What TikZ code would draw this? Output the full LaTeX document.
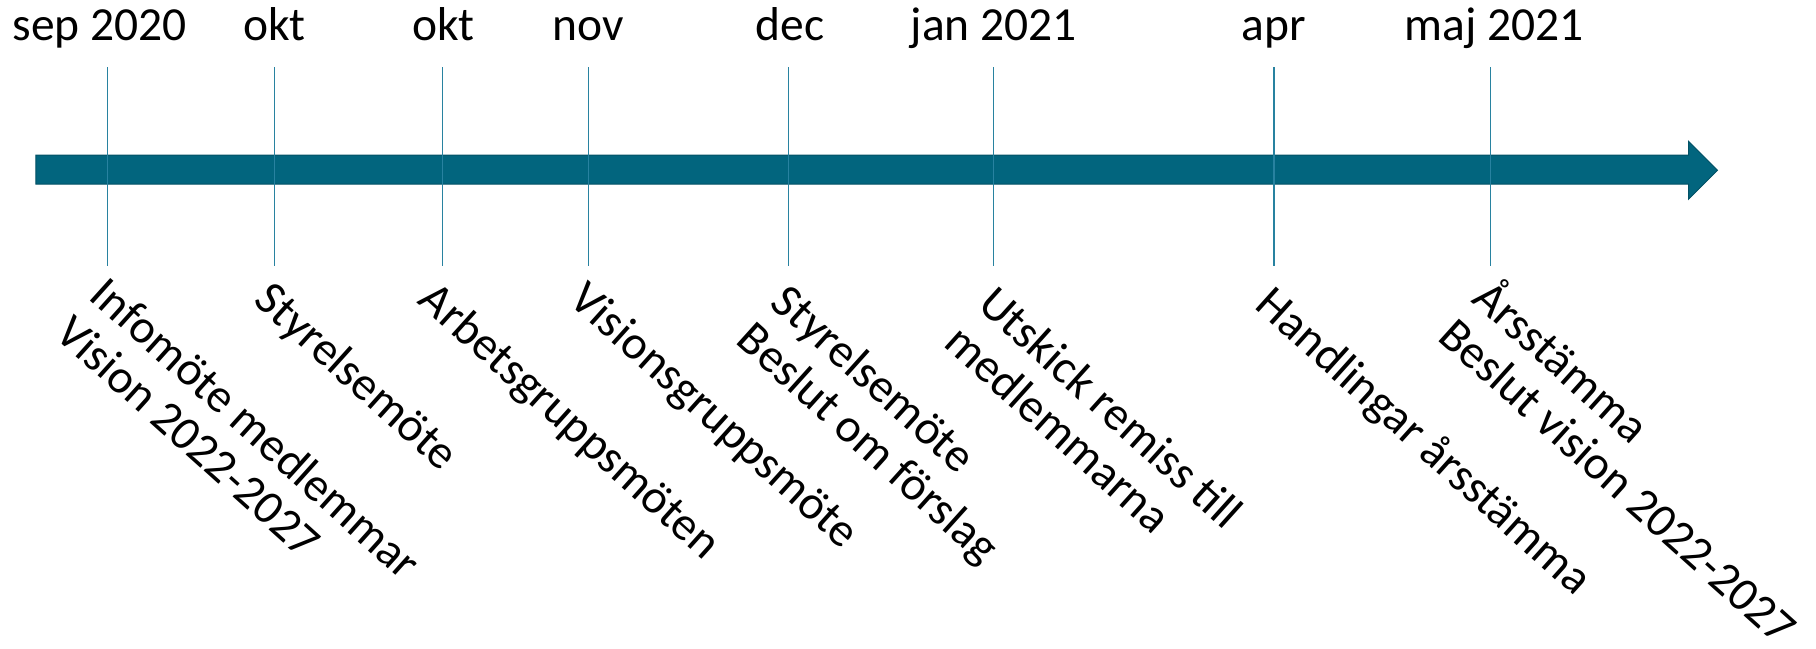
\documentclass[tikz,border=0pt]{standalone}
\usepackage{fontspec}
\setmainfont{Carlito}
\definecolor{arrowteal}{RGB}{2,101,126}
\definecolor{tickteal}{RGB}{40,130,160}
\begin{document}
\begin{tikzpicture}[x=1pt,y=-1pt,
  datelbl/.style={inner sep=0pt, anchor=base, font=\fontsize{41}{44}\selectfont},
  eventlbl/.style={inner sep=0pt, anchor=north west, rotate=-42, align=left, font=\fontsize{41}{44}\selectfont},
  tickline/.style={draw=tickteal, line width=1pt}]
\useasboundingbox (0,0) rectangle (1568,560);
% ticks
\foreach \n/\x in {a/93,b/237,c/382,d/508,e/681,f/858,g/1100,h/1287}{
  \coordinate (t\n) at (\x,58);
  \coordinate (b\n) at (\x,230);
}
% arrow
\fill[arrowteal, draw=arrowteal!80!black, line width=0.8pt]
  (31,134) -- (1458,134) -- (1458,122) -- (1483,147) -- (1458,172) -- (1458,159) -- (31,159) -- cycle;
\foreach \n in {a,b,c,d,e,f,g,h}{ \draw[tickline] (t\n) -- (b\n); }
% dates
\node[datelbl] (da) at (86,35) {sep 2020};
\node[datelbl] (db) at (237,35) {okt};
\node[datelbl] (dc) at (383,35) {okt};
\node[datelbl] (dd) at (508,35) {nov};
\node[datelbl] (de) at (682,35) {dec};
\node[datelbl] (df) at (858,35) {jan 2021};
\node[datelbl] (dg) at (1100,35) {apr};
\node[datelbl] (dh) at (1290,35) {maj 2021};
% events
\node[eventlbl] (ea) at (95,236) {Infomöte medlemmar\\Vision 2022-2027};
\node[eventlbl] (eb) at (237,240) {Styrelsemöte};
\node[eventlbl] (ec) at (379,240) {Arbetsgruppsmöten};
\node[eventlbl] (ed) at (509,240) {Visionsgruppsmöte};
\node[eventlbl] (ee) at (683,242) {Styrelsemöte\\Beslut om förslag};
\node[eventlbl] (ef) at (862,244) {Utskick remiss till\\medlemmarna};
\node[eventlbl] (eg) at (1102,244) {Handlingar årsstämma};
\node[eventlbl] (eh) at (1293,234) {Årsstämma\\Beslut vision 2022-2027};
\end{tikzpicture}
\end{document}
